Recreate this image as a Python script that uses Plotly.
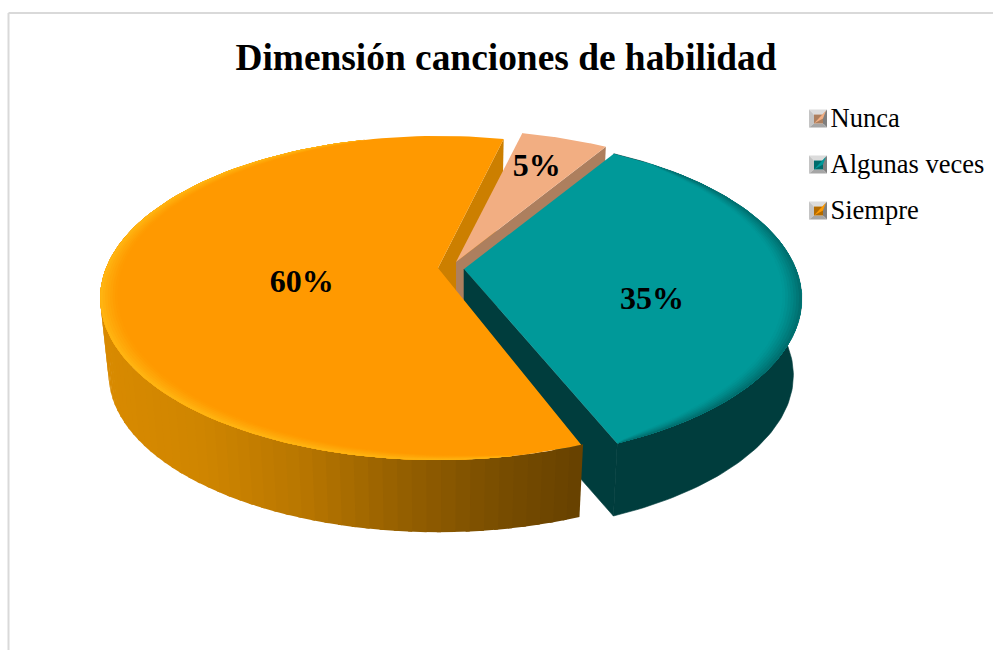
import math
import plotly.graph_objects as go

# ---- data
categories = ["Nunca", "Algunas veces", "Siempre"]
values = [5, 35, 60]
title_text = "Dimensión canciones de habilidad"

# ---- styling / geometry of the 3D look (pixel space)
W, H = 993, 650
FIRST_ANGLE = 13.5
APEX = [(456, 262), (464, 269), (438, 268)]
B, A, K = 332.0, 156.5, 0.185      # perspective ellipse parameters
DEPTH, SHRINK = 77.0, 0.975
TOP = ["#f2ae82", "#009999", "#ff9900"]
EDGE_WALL = ["#ad7f5e", "#003d3d", "#cc7f00"]
START_TRIM = [0, 0, 1.6]           # rounded front corner of the large slice
LABEL_POLAR = [(22, 0.73), (109.8, 0.58), (256, 0.415)]
LABEL_FONT = 32
LEGEND_FONT = 26.5
SERIF = "Liberation Serif, Times New Roman, serif"


def project(i, deg, r=1.0, low=False):
    a = math.radians(deg)
    u, v = r * math.sin(a), -r * math.cos(a)
    d = 1 - K * v
    dx, dy = B * u / d, A * v / d
    if low:
        dx, dy = SHRINK * dx, SHRINK * dy + DEPTH
    return APEX[i][0] + dx, APEX[i][1] + dy


def arange(a0, a1, n):
    return [a0 + (a1 - a0) * k / n for k in range(n + 1)]


def poly(pts, color, name=None, lw=0):
    xs = [p[0] for p in pts] + [pts[0][0]]
    ys = [p[1] for p in pts] + [pts[0][1]]
    return go.Scatter(x=xs, y=ys, mode="lines", fill="toself", fillcolor=color,
                      line=dict(width=lw, color=color), hoverinfo="skip",
                      showlegend=False, name=name)


def mix(c0, c1, t):
    c0 = [int(c0[i:i + 2], 16) for i in (1, 3, 5)]
    c1 = [int(c1[i:i + 2], 16) for i in (1, 3, 5)]
    return "rgb(%d,%d,%d)" % tuple(round(a + (b - a) * t) for a, b in zip(c0, c1))


# slice angles derived from the values
total = sum(values)
bounds = [FIRST_ANGLE]
for val in values:
    bounds.append(bounds[-1] + 360 * val / total)
spans = [(a0 + tr, a1) for (a0, a1, tr) in zip(bounds[:-1], bounds[1:], START_TRIM)]


def top_face(i):
    a0, a1 = spans[i]
    return [APEX[i]] + [project(i, t) for t in arange(a0, a1, 120)]


def radial_wall(i, deg):
    return [APEX[i], project(i, deg), project(i, deg, low=True), project(i, deg, 0, True)]


def add_soft_rim(i, a0, a1, width, edge_color):
    """Soft bevel: nested bands, widest and faintest first, tapering at both ends."""
    steps = 7
    for k in range(steps):
        frac = 1 - k / steps
        col = mix(TOP[i], edge_color, ((k + 1) / steps) ** 1.3)
        ts = arange(a0, a1, 90)
        inner = [1 - width * frac * max(0.0, math.sin(math.pi * (t - a0) / (a1 - a0))) ** 0.5 for t in ts]
        pts = [project(i, t) for t in ts] + [project(i, t, r) for t, r in zip(reversed(ts), reversed(inner))]
        fig.add_trace(poly(pts, col))


fig = go.Figure()

# Siempre: wall of its far radial edge (behind Nunca)
fig.add_trace(poly(radial_wall(2, spans[2][1]), EDGE_WALL[2]))

# Nunca: radial wall and top
fig.add_trace(poly(radial_wall(0, spans[0][1]), EDGE_WALL[0]))
fig.add_trace(poly(top_face(0), TOP[0], categories[0]))

# Algunas veces: outer wall, radial wall, top
ts = arange(spans[1][0], spans[1][1], 120)
fig.add_trace(poly([project(1, t) for t in ts] + [project(1, t, low=True) for t in reversed(ts)], "#003d3d", lw=0.6))
fig.add_trace(poly(radial_wall(1, spans[1][1]), EDGE_WALL[1], lw=0.6))
fig.add_trace(poly(top_face(1), TOP[1], categories[1]))
add_soft_rim(1, 40, spans[1][1], 0.055, "#006f6f")

# Siempre: outer wall with a left-to-right gradient, then top
wall_ts = arange(spans[2][0], 292, 64)
stops = [(105, "#d88a00"), (200, "#cf8500"), (300, "#b87600"), (400, "#955f00"),
         (500, "#784d00"), (585, "#664000")]
for t0, t1 in zip(wall_ts[:-1], wall_ts[1:]):
    xm = project(2, (t0 + t1) / 2)[0]
    col = stops[-1][1]
    for (x0, c0), (x1, c1) in zip(stops[:-1], stops[1:]):
        if x0 <= xm <= x1:
            col = mix(c0, c1, (xm - x0) / (x1 - x0))
    if xm < stops[0][0]:
        col = stops[0][1]
    fig.add_trace(poly([project(2, t0 - 0.3), project(2, t1 + 0.3),
                        project(2, t1 + 0.3, low=True), project(2, t0 - 0.3, low=True)], col))
fig.add_trace(poly(top_face(2), TOP[2], categories[2]))
add_soft_rim(2, spans[2][0] + 10, 345, 0.05, "#ffb411")

# percentage labels
lab_xy = [project(i, LABEL_POLAR[i][0], LABEL_POLAR[i][1]) for i in range(3)]
fig.add_trace(go.Scatter(
    x=[p[0] for p in lab_xy], y=[p[1] for p in lab_xy], mode="text",
    text=["<b>%d%%</b>" % round(100 * v / total) for v in values], textposition="middle center",
    textfont=dict(family=SERIF, size=LABEL_FONT, color="#000000"),
    hoverinfo="skip", showlegend=False))

# legend: bevelled swatches + labels
LEG_X0, LEG_S = 809, 18
LEG_ROWS = [118.5, 164.5, 210.5]
LEG_TEXT_DY = 1.5
INNER_DARK = ["#ad7f5e", "#006b6b", "#b36b00"]
for i, yc in enumerate(LEG_ROWS):
    x0, y0, s = LEG_X0, yc - LEG_S / 2, LEG_S
    x1, y1 = x0 + s, y0 + s
    ix0, iy0, ix1, iy1 = x0 + 5, y0 + 5, x1 - 4, y1 - 4
    fig.add_trace(poly([(x0, y0), (x1, y0), (ix1, iy0), (ix0, iy0)], "#dcdcdc"))
    fig.add_trace(poly([(x0, y0), (ix0, iy0), (ix0, iy1), (x0, y1)], "#c4c4c4"))
    fig.add_trace(poly([(x1, y0), (x1, y1), (ix1, iy1), (ix1, iy0)], "#7f7f7f"))
    fig.add_trace(poly([(x0, y1), (x1, y1), (ix1, iy1), (ix0, iy1)], "#a6a6a6"))
    fig.add_trace(poly([(ix0, iy0), (ix1, iy0), (ix1, iy1), (ix0, iy1)], INNER_DARK[i]))
    fig.add_trace(poly([(ix0, iy1), (x1 - 1, y0 + 1), (ix1, iy0 + 4)], TOP[i]))
fig.add_trace(go.Scatter(
    x=[830.5] * 3, y=[r + LEG_TEXT_DY for r in LEG_ROWS], mode="text", text=categories,
    textposition="middle right",
    textfont=dict(family=SERIF, size=LEGEND_FONT, color="#000000"),
    hoverinfo="skip", showlegend=False, cliponaxis=False))

fig.update_layout(
    width=W, height=H, margin=dict(l=0, r=0, t=0, b=0),
    paper_bgcolor="#ffffff", plot_bgcolor="#ffffff", showlegend=False,
    title=dict(text="<b>%s</b>" % title_text, x=506 / W, xanchor="center",
               y=1 - 57 / H, yanchor="middle",
               font=dict(family=SERIF, size=37.4, color="#000000")),
    xaxis=dict(range=[0, W], visible=False, fixedrange=True),
    yaxis=dict(range=[H, 0], visible=False, fixedrange=True),
    shapes=[
        dict(type="line", xref="x", yref="y", x0=8.5, y0=13, x1=W, y1=13,
             line=dict(color="#d9d9d9", width=2)),
        dict(type="line", xref="x", yref="y", x0=8.5, y0=13, x1=8.5, y1=H,
             line=dict(color="#d9d9d9", width=2)),
    ],
)
fig.write_html("out.html", config=dict(displayModeBar=False, responsive=False),
               post_script="document.body.style.margin='0';document.body.style.overflow='hidden';")
